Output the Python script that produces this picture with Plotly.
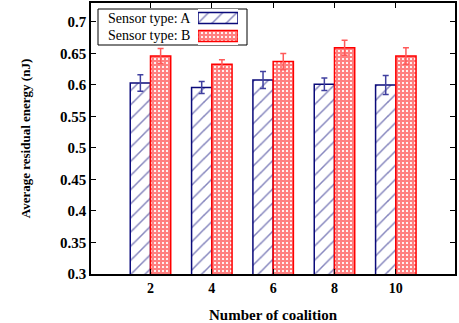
import plotly.graph_objects as go

coalitions = [2, 4, 6, 8, 10]
energy_a = [0.603, 0.596, 0.608, 0.601, 0.600]
err_a = [0.013, 0.0095, 0.0135, 0.0098, 0.015]
energy_b = [0.646, 0.633, 0.637, 0.659, 0.646]
err_b = [0.012, 0.007, 0.013, 0.012, 0.013]
y_ticks = [0.3, 0.35, 0.4, 0.45, 0.5, 0.55, 0.6, 0.65, 0.7]
x_ticks = ["2", "4", "6", "8", "10"]
series_names = ["Sensor type: A", "Sensor type: B"]

SERIF = "Liberation Serif, Times New Roman, Times, serif"
NAVY = "#0a0a7a"
RED = "#ff0000"
BW = 0.66

pat_a = dict(shape="/", fgcolor=NAVY, bgcolor="white", size=10, solidity=0.15)
pat_b = dict(shape="+", fgcolor=RED, bgcolor="white", size=4, solidity=0.8)

fig = go.Figure()
fig.add_trace(go.Bar(
    x=coalitions, y=energy_a, name=series_names[0], showlegend=False,
    width=BW, offset=-BW,
    marker=dict(color="white", line=dict(color=NAVY, width=1.5), pattern=pat_a),
    error_y=dict(type="data", array=err_a, color="#4040a0", thickness=1.5, width=3),
))
fig.add_trace(go.Bar(
    x=coalitions, y=energy_b, name=series_names[1], showlegend=False,
    width=BW, offset=0,
    marker=dict(color="white", line=dict(color=RED, width=1.5), pattern=pat_b),
    error_y=dict(type="data", array=err_b, color="#ff5a5a", thickness=1.5, width=3),
))

# key drawn with swatches on a small helper axis (text left, swatch right)
fig.add_trace(go.Bar(
    y=[0], x=[1], orientation="h", width=0.62, xaxis="x2", yaxis="y2",
    showlegend=False, hoverinfo="skip",
    marker=dict(color="white", line=dict(color=NAVY, width=1.5), pattern=pat_a),
))
fig.add_trace(go.Bar(
    y=[1], x=[1], orientation="h", width=0.62, xaxis="x2", yaxis="y2",
    showlegend=False, hoverinfo="skip",
    marker=dict(color="white", line=dict(color=RED, width=1.5), pattern=pat_b),
))

W, H = 459, 323
L, R, T, B = 91, 4, 3, 49
pw, ph = W - L - R, H - T - B

def px_x(p):
    return (p - L) / pw

def px_y(p):
    return (H - B - p) / ph

fig.update_layout(
    width=W, height=H,
    margin=dict(l=L, r=R, t=T, b=B),
    barmode="overlay",
    plot_bgcolor="white", paper_bgcolor="white",
    font=dict(family=SERIF, size=13, color="black"),
    showlegend=False,
    xaxis=dict(range=[0.06, 11.93], tickvals=coalitions, ticktext=x_ticks,
               ticks="inside", ticklen=5, tickcolor="black",
               showline=True, linecolor="black", linewidth=1.5, mirror="ticks",
               showgrid=False, zeroline=False, automargin=False,
               tickfont=dict(family=SERIF, size=14, color="black", weight="bold"),
               title=dict(text="<b>Number of coalition</b>", standoff=15,
                          font=dict(family=SERIF, size=15))),
    yaxis=dict(range=[0.3, 0.73], tickvals=y_ticks,
               ticktext=[("%g" % v) for v in y_ticks],
               ticks="inside", ticklen=5, tickcolor="black",
               showline=True, linecolor="black", linewidth=1.5, mirror="ticks",
               showgrid=False, zeroline=False, automargin=False,
               tickfont=dict(family=SERIF, size=15, color="black", weight="bold"),
               title=dict(text="<b>Average residual energy (nJ)</b>", standoff=26,
                          font=dict(family=SERIF, size=13))),
    xaxis2=dict(domain=[px_x(198), px_x(238)], range=[0, 1], anchor="y2",
                visible=False, fixedrange=True),
    yaxis2=dict(domain=[px_y(45), px_y(9)], range=[1.5, -0.5], anchor="x2",
                visible=False, fixedrange=True),
    shapes=[dict(type="rect", xref="paper", yref="paper",
                 x0=px_x(98), x1=px_x(247), y0=px_y(45), y1=px_y(9),
                 line=dict(color="black", width=1), fillcolor="white", layer="below")],
    annotations=[
        dict(text=series_names[0], xref="paper", yref="paper", x=px_x(106), y=px_y(18.5),
             xanchor="left", yanchor="middle", showarrow=False,
             font=dict(family=SERIF, size=14, color="black")),
        dict(text=series_names[1], xref="paper", yref="paper", x=px_x(106), y=px_y(35.5),
             xanchor="left", yanchor="middle", showarrow=False,
             font=dict(family=SERIF, size=14, color="black")),
    ],
)

fig.write_html("out.html", config={"displayModeBar": False},
               post_script="document.body.style.margin='0';")
